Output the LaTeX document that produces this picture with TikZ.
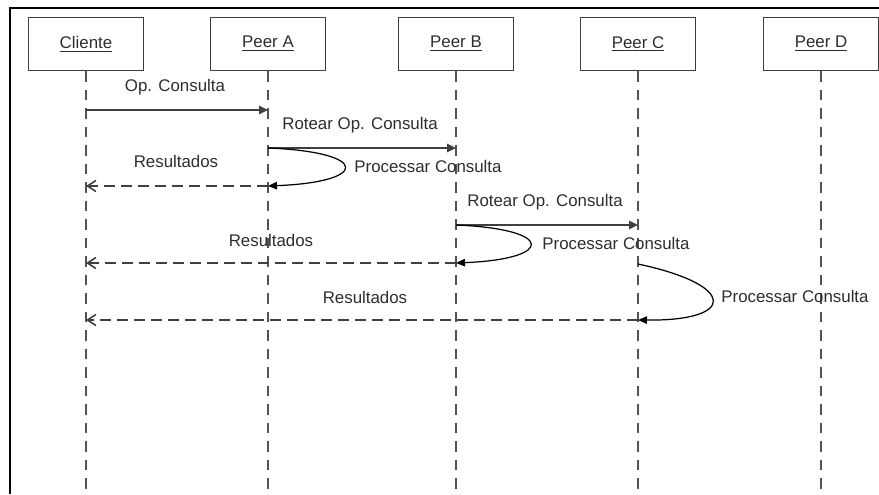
\documentclass[tikz,border=0pt]{standalone}
\usepackage{fontspec}
\setmainfont{Liberation Sans}
\usetikzlibrary{arrows.meta}
\definecolor{linegray}{RGB}{64,64,64}
\definecolor{textgray}{RGB}{45,45,45}
\tikzset{
  actor/.style={draw=linegray, line width=0.9pt, minimum width=2.3cm, minimum height=1.06cm, inner sep=0pt, text=textgray},
  lifeline/.style={draw=linegray!90, line width=0.9pt, dash pattern=on 0.21cm off 0.16cm},
  msg/.style={draw=linegray, line width=0.9pt, -{Triangle[length=0.18cm,width=0.17cm]}},
  reply/.style={draw=linegray, line width=0.9pt, dash pattern=on 0.22cm off 0.12cm, -{Straight Barb[length=0.17cm,width=0.22cm]}},
  selfmsg/.style={draw=black, line width=0.7pt, -{Triangle[length=0.18cm,width=0.15cm]}},
  lbl/.style={text=textgray, inner sep=0pt},
}
\begin{document}
\begin{tikzpicture}[x=0.02cm, y=-0.02cm, font=\fontsize{9.6}{11.5}\selectfont]
    \useasboundingbox (0,0) rectangle (879,494);
    % frame
    \draw[line width=0.6pt] (10,494) -- (10,8) -- (879,8);
    % actors and lifelines
    \foreach \n/\x/\t in {cli/86/Cliente, pa/268/Peer A, pb/456/Peer B, pc/638/Peer C, pd/821/Peer D} {
        \node[actor] (\n) at (\x,44) {\underline{\t}};
        \coordinate (\n-end) at (\x,494);
        \draw[lifeline] (\n.south) -- (\n-end);
    }
    % Op. Consulta
    \coordinate (m1s) at (86,110);
    \coordinate (m1e) at (268,110);
    \draw[msg] (m1s) -- (m1e);
    \node[lbl] (l1) at (175,87) {Op. Consulta};
    % Rotear Op. Consulta (A -> B)
    \coordinate (m2s) at (268,148);
    \coordinate (m2e) at (456,148);
    \draw[msg] (m2s) -- (m2e);
    \node[lbl] (l2) at (360,125) {Rotear Op. Consulta};
    % Processar Consulta (A)
    \coordinate (p1e) at (268,186);
    \draw[selfmsg] (m2s) .. controls (370,152) and (370,182) .. (p1e);
    \node[lbl] (l3) at (428,166) {Processar Consulta};
    % Resultados (A -> Cliente)
    \coordinate (r1e) at (86,186);
    \draw[reply] (p1e) -- (r1e);
    \node[lbl] (l4) at (176,161) {Resultados};
    % Rotear Op. Consulta (B -> C)
    \coordinate (m3s) at (456,225);
    \coordinate (m3e) at (638,225);
    \draw[msg] (m3s) -- (m3e);
    \node[lbl] (l5) at (545,202) {Rotear Op. Consulta};
    % Processar Consulta (B)
    \coordinate (p2e) at (456,263);
    \draw[selfmsg] (m3s) .. controls (555,229) and (555,259) .. (p2e);
    \node[lbl] (l6) at (616,243) {Processar Consulta};
    % Resultados (B -> Cliente)
    \coordinate (r2e) at (86,263);
    \draw[reply] (p2e) -- (r2e);
    \node[lbl] (l7) at (271,240) {Resultados};
    % Processar Consulta (C)
    \coordinate (p3s) at (638,264);
    \coordinate (p3e) at (638,320);
    \draw[selfmsg] (p3s) .. controls (737,285) and (737,321) .. (p3e);
    \node[lbl] (l8) at (795,296) {Processar Consulta};
    % Resultados (C -> Cliente)
    \coordinate (r3e) at (86,320);
    \draw[reply] (p3e) -- (r3e);
    \node[lbl] (l9) at (365,297) {Resultados};
\end{tikzpicture}
\end{document}
